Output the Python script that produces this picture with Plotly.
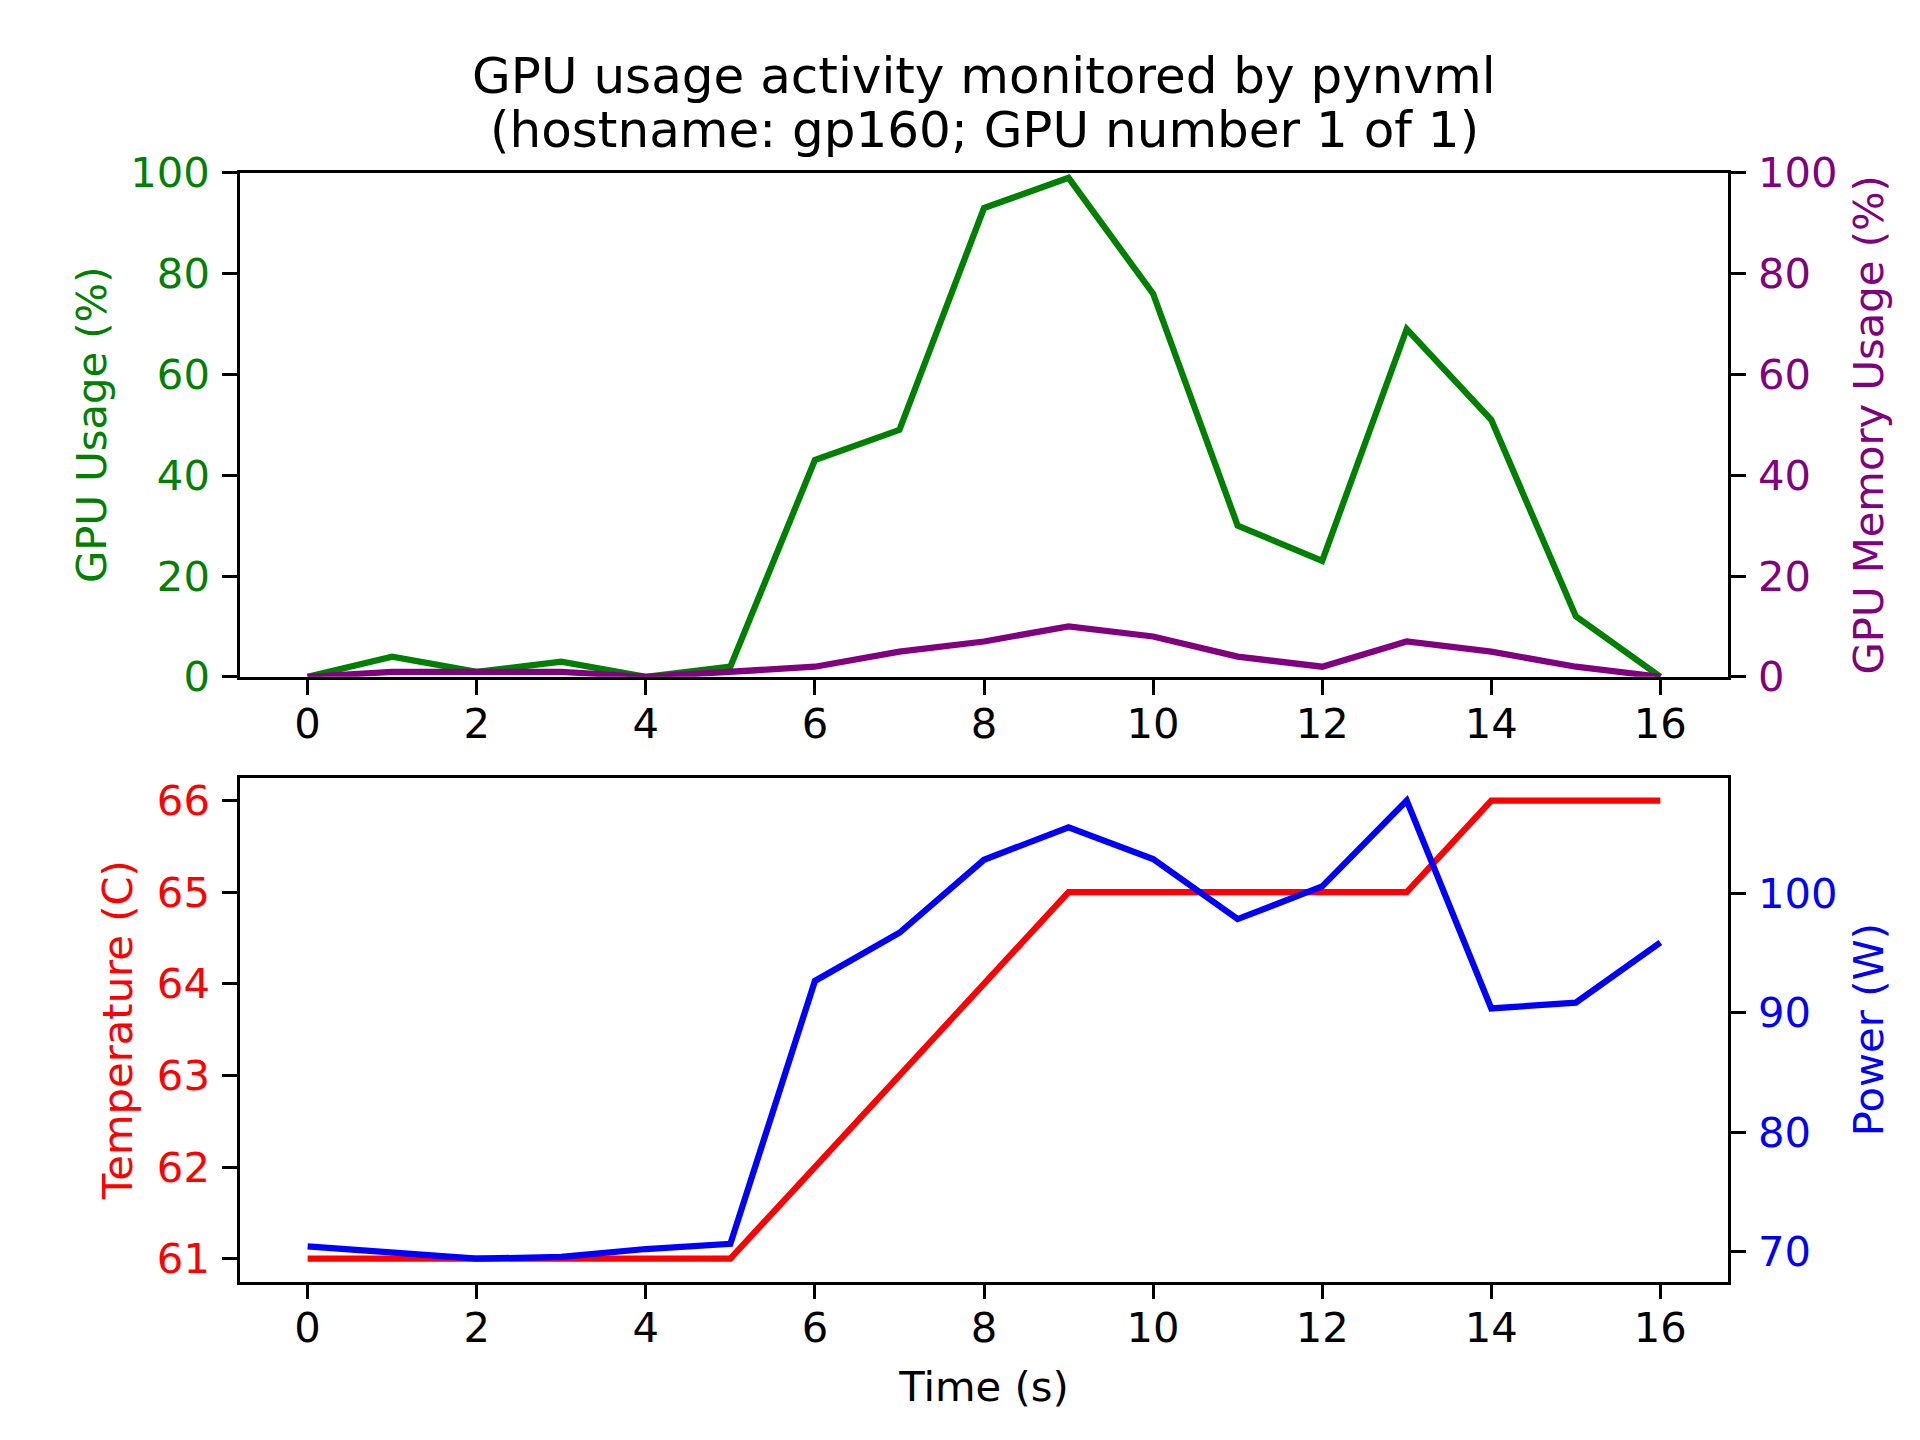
import plotly.graph_objects as go

time_s = list(range(17))
gpu_usage = [0, 4, 1, 3, 0, 2, 43, 49, 93, 99, 76, 30, 23, 69, 51, 12, 0]
gpu_mem = [0, 1, 1, 1, 0, 1, 2, 5, 7, 10, 8, 4, 2, 7, 5, 2, 0]
temperature = [61, 61, 61, 61, 61, 61, 62, 63, 64, 65, 65, 65, 65, 65, 66, 66, 66]
power = [70.46, 69.95, 69.42, 69.57, 70.23, 70.66, 92.66, 96.69, 102.8, 105.52,
         102.87, 97.84, 100.57, 107.76, 90.36, 90.85, 95.88]

W, H = 1920, 1440
FS = 41.7
LW = 6.25
FONT = "DejaVu Sans"
# compensate the page's default body margin (8px)
DX = -8 / W
DY = 8 / H

fig = go.Figure()
fig.add_trace(go.Scatter(x=time_s, y=gpu_usage, mode="lines", line=dict(color="green", width=LW),
                         xaxis="x", yaxis="y", name="GPU Usage"))
fig.add_trace(go.Scatter(x=time_s, y=gpu_mem, mode="lines", line=dict(color="purple", width=LW),
                         xaxis="x", yaxis="y2", name="GPU Memory Usage"))
fig.add_trace(go.Scatter(x=time_s, y=temperature, mode="lines", line=dict(color="red", width=LW),
                         xaxis="x2", yaxis="y3", name="Temperature"))
fig.add_trace(go.Scatter(x=time_s, y=power, mode="lines", line=dict(color="blue", width=LW),
                         xaxis="x2", yaxis="y4", name="Power"))

tmin, tmax = min(time_s), max(time_s)
xm = (tmax - tmin) * 0.05
xr = [tmin - xm, tmax + xm]
tr = [min(temperature), max(temperature)]
tm = (tr[1] - tr[0]) * 0.05
pr = [min(power), max(power)]
pm = (pr[1] - pr[0]) * 0.05

common = dict(showline=True, linecolor="black", linewidth=3.3, ticks="outside", ticklen=14.6,
              tickwidth=3.3, tickcolor="black", showgrid=False, zeroline=False,
              automargin=False)
xcommon = dict(common, ticklabelstandoff=-7)
ycommon = dict(common, ticklabelstandoff=4)

def tf(c):
    return dict(family=FONT, size=FS, color=c)

xdom = [0.125 + DX, 0.9 + DX]

fig.update_layout(
    template="none",
    width=W, height=H, autosize=False,
    margin=dict(l=0, r=0, t=0, b=0, pad=0),
    paper_bgcolor="white", plot_bgcolor="white",
    showlegend=False,
    font=dict(family=FONT, size=FS, color="black"),
    xaxis=dict(domain=xdom, anchor="y", range=xr, dtick=2, tick0=0, mirror=True,
               tickfont=tf("black"), **xcommon),
    yaxis=dict(domain=[0.53 + DY, 0.88 + DY], anchor="x", range=[0, 100], dtick=20, mirror=True,
               tickfont=tf("green"),
               title=dict(text="GPU Usage (%)", font=tf("green"), standoff=11), **ycommon),
    yaxis2=dict(overlaying="y", side="right", anchor="x", range=[0, 100], dtick=20,
                tickfont=tf("purple"),
                title=dict(text="GPU Memory Usage (%)", font=tf("purple"), standoff=18), **ycommon),
    xaxis2=dict(domain=xdom, anchor="y3", range=xr, dtick=2, tick0=0, mirror=True,
                tickfont=tf("black"),
                title=dict(text="Time (s)", font=tf("black"), standoff=21), **xcommon),
    yaxis3=dict(domain=[0.11 + DY, 0.46 + DY], anchor="x2", range=[tr[0] - tm, tr[1] + tm], dtick=1,
                mirror=True, tickfont=tf("red"),
                title=dict(text="Temperature (C)", font=tf("red"), standoff=12), **ycommon),
    yaxis4=dict(overlaying="y3", side="right", anchor="x2", range=[pr[0] - pm, pr[1] + pm],
                dtick=10, tick0=0, tickfont=tf("blue"),
                title=dict(text="Power (W)", font=tf("blue"), standoff=18), **ycommon),
    annotations=[
        dict(text="GPU usage activity monitored by pynvml", xref="paper", yref="paper",
             x=0.5125 + DX, y=1 - 76 / H + DY, xanchor="center", yanchor="middle", showarrow=False,
             font=dict(family=FONT, size=50, color="black")),
        dict(text="(hostname: gp160; GPU number 1 of 1)", xref="paper", yref="paper",
             x=0.5125 + DX, y=1 - 130 / H + DY, xanchor="center", yanchor="middle", showarrow=False,
             font=dict(family=FONT, size=50, color="black")),
    ],
)

fig.write_html("out.html")
